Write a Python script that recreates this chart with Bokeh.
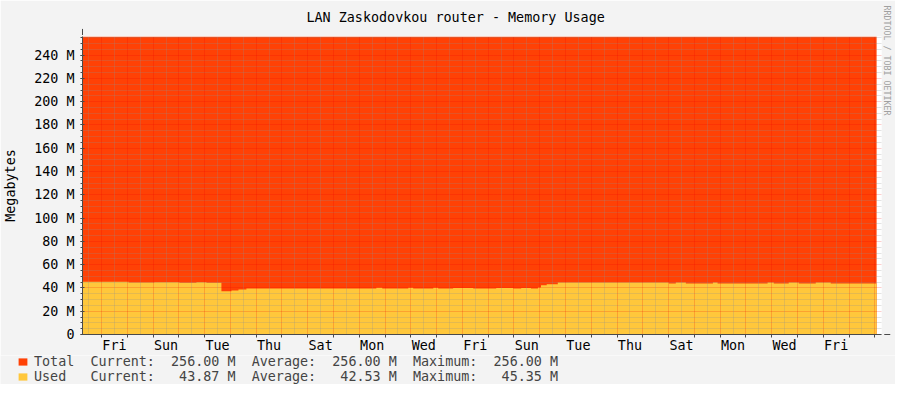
from bokeh.plotting import figure
from bokeh.layouts import column
from bokeh.models import (Range1d, FixedTicker, Grid, Legend, LegendItem,
                          Arrow, NormalHead, Title)
from bokeh.embed import file_html
from bokeh.resources import INLINE

# ---------------- data ----------------
# time in days, 0 = first midnight (Friday 00:00)
used_t = [-0.74, 1.05, 2.05, 3.02, 3.68, 4.07, 4.65, 5.04, 5.31, 5.62,
          10.66, 10.89, 11.90, 12.09, 12.87, 13.06, 13.64, 14.42, 15.31, 15.97,
          16.28, 16.66, 16.93, 17.05, 17.27, 17.70, 22.01, 22.28, 22.67, 23.72,
          23.90, 25.84, 26.08, 26.66, 27.05, 27.71, 28.29, 30.07]
used_v = [45.35, 44.6, 44.9, 44.4, 44.9, 44.4, 37.2, 37.7, 38.6, 39.5,
          40.2, 39.5, 40.2, 39.5, 40.2, 39.5, 40.0, 39.5, 40.0, 39.5,
          40.0, 39.5, 40.3, 42.3, 43.1, 44.6, 43.87, 44.6, 43.87, 44.6,
          43.87, 44.6, 43.87, 44.6, 43.87, 44.6, 43.87, 43.87]
total_v = [256.0] * len(used_t)

day_label_pos = [0.5, 2.5, 4.5, 6.5, 8.5, 10.5, 12.5, 14.5, 16.5, 18.5,
                 20.5, 22.5, 24.5, 26.5, 28.5]
day_label_txt = ["Fri", "Sun", "Tue", "Thu", "Sat", "Mon", "Wed", "Fri",
                 "Sun", "Tue", "Thu", "Sat", "Mon", "Wed", "Fri"]

y_major = [0, 20, 40, 60, 80, 100, 120, 140, 160, 180, 200, 220, 240]
y_labels = ["0", "20 M", "40 M", "60 M", "80 M", "100 M", "120 M", "140 M",
            "160 M", "180 M", "200 M", "220 M", "240 M"]

series_names = ["Total", "Used"]
cur_vals = ["256.00 M", "43.87 M"]
avg_vals = ["256.00 M", "42.53 M"]
max_vals = ["256.00 M", "45.35 M"]

title_text = "LAN Zaskodovkou router - Memory Usage"
y_title = "Megabytes"
watermark = "RRDTOOL / TOBI OETIKER"

# ---------------- style ----------------
RED = "#FF4105"
YEL = "#FFC73B"
BG = "#F3F3F3"
AX = "#4A4A4A"
FONT = "DejaVu Sans Mono"
FS = "13.4px"
NB = "\u00a0"

X0, X1 = -0.74, 30.26
Y0, Y1 = 0, 256

title = Title(text=title_text, align="left", offset=224, standoff=19,
              vertical_align="top",
              text_font=FONT, text_font_size=FS, text_font_style="normal",
              text_color="black")

p = figure(width=895, height=355, output_backend="svg", toolbar_location=None,
           x_range=Range1d(X0, X1), y_range=Range1d(Y0, Y1), title=title,
           min_border_left=81, min_border_right=14, min_border_top=36,
           min_border_bottom=19)
p.frame_align = False
p.background_fill_color = "white"
p.border_fill_color = BG
p.outline_line_color = None

# areas
r_tot = p.varea_step(x=used_t, y1=[0] * len(used_t), y2=total_v,
                     step_mode="after", fill_color=RED)
r_used = p.varea_step(x=used_t, y1=[0] * len(used_t), y2=used_v,
                      step_mode="after", fill_color=YEL)
r_tot.level = "image"
r_used.level = "image"

p.xgrid.visible = False
p.ygrid.visible = False

midnights = list(range(0, 31))
noons = [d + 0.5 for d in range(-1, 30)]

xa = p.xaxis[0]
xa.ticker = FixedTicker(ticks=day_label_pos, minor_ticks=midnights)
xa.major_label_overrides = {k: v for k, v in zip(day_label_pos, day_label_txt)}
xa.major_tick_out = 0
xa.major_tick_in = 0
xa.minor_tick_out = 3
xa.minor_tick_in = 0
xa.major_label_standoff = 0

ya = p.yaxis[0]
ya.ticker = FixedTicker(ticks=y_major, minor_ticks=list(range(0, 256, 5)))
ya.major_label_overrides = {k: v for k, v in zip(y_major, y_labels)}
ya.major_tick_out = 2
ya.major_tick_in = 2
ya.minor_tick_out = 2
ya.minor_tick_in = 0
ya.major_label_standoff = 6
ya.axis_label = y_title
ya.axis_label_standoff = 13
ya.axis_label_text_font = FONT
ya.axis_label_text_font_size = FS
ya.axis_label_text_font_style = "normal"
ya.axis_label_text_color = "black"

for ax in (xa, ya):
    ax.axis_line_color = AX
    ax.major_tick_line_color = AX
    ax.minor_tick_line_color = AX
    ax.major_label_text_font = FONT
    ax.major_label_text_font_size = FS
    ax.major_label_text_color = "black"

# grids (drawn above the areas)
ygrid = Grid(dimension=1,
             ticker=FixedTicker(ticks=y_major[1:],
                                minor_ticks=[v for v in range(5, 256, 5) if v % 20]),
             grid_line_color="#F00000", grid_line_alpha=0.38, grid_line_dash="1 1",
             minor_grid_line_color="#8F8F8F", minor_grid_line_alpha=0.5,
             minor_grid_line_dash="1 1")
xgrid = Grid(dimension=0,
             ticker=FixedTicker(ticks=midnights, minor_ticks=noons),
             grid_line_color="#F00000", grid_line_alpha=0.38, grid_line_dash="1 1",
             minor_grid_line_color="#8F8F8F", minor_grid_line_alpha=0.5,
             minor_grid_line_dash="1 1")
p.add_layout(ygrid)
p.add_layout(xgrid)

# axis arrows
p.add_layout(Arrow(x_start=X1, y_start=0, x_end=X1 + 0.34, y_end=0,
                   line_color=AX, line_width=1,
                   end=NormalHead(size=6, fill_color="#7F1F1F", line_color="#7F1F1F")))
p.add_layout(Arrow(x_start=X0, y_start=Y1, x_end=X0, y_end=Y1 + 6.5,
                   line_color=AX, line_width=1,
                   end=NormalHead(size=6, fill_color="#7F1F1F", line_color="#7F1F1F")))

# watermark on the right side
p.add_layout(Title(text=watermark, align="left", offset=-31, standoff=0,
                   text_font=FONT, text_font_size="8.3px", text_font_style="normal",
                   text_color="#A0A0A0"), "right")

# ---------------- legend strip ----------------
lf = figure(width=895, height=29, output_backend="svg", toolbar_location=None,
            x_range=Range1d(X0, X1), y_range=Range1d(Y0, Y1),
            x_axis_location=None, y_axis_location=None, min_border=0)
lf.frame_align = False
lf.background_fill_color = BG
lf.border_fill_color = BG
lf.outline_line_color = None
lf.grid.visible = False

# same series, hidden: they only provide the legend swatches
lg_tot = lf.varea_step(x=used_t, y1=[0] * len(used_t), y2=total_v,
                       step_mode="after", fill_color=RED, visible=False)
lg_used = lf.varea_step(x=used_t, y1=[0] * len(used_t), y2=used_v,
                        step_mode="after", fill_color=YEL, visible=False)


def row_text(name, cur, avg, mx):
    s = (name.ljust(7) + "Current:  " + cur.rjust(8) + "  Average:  " +
         avg.rjust(8) + "  Maximum:  " + mx.rjust(8))
    return s.replace(" ", NB)


items = [LegendItem(label=row_text(series_names[i], cur_vals[i], avg_vals[i],
                                   max_vals[i]),
                    renderers=[r])
         for i, r in enumerate([lg_tot, lg_used])]
legend = Legend(items=items, location=(17, 0), orientation="vertical",
                glyph_width=11, glyph_height=9, label_standoff=6, spacing=0,
                padding=0, margin=0, background_fill_alpha=0,
                border_line_color=None, label_text_font=FONT,
                label_text_font_size=FS, label_height=9,
                inactive_fill_alpha=0)
lf.add_layout(legend)

layout = column(p, lf, spacing=0)
open("out.html", "w").write(file_html(layout, INLINE))
